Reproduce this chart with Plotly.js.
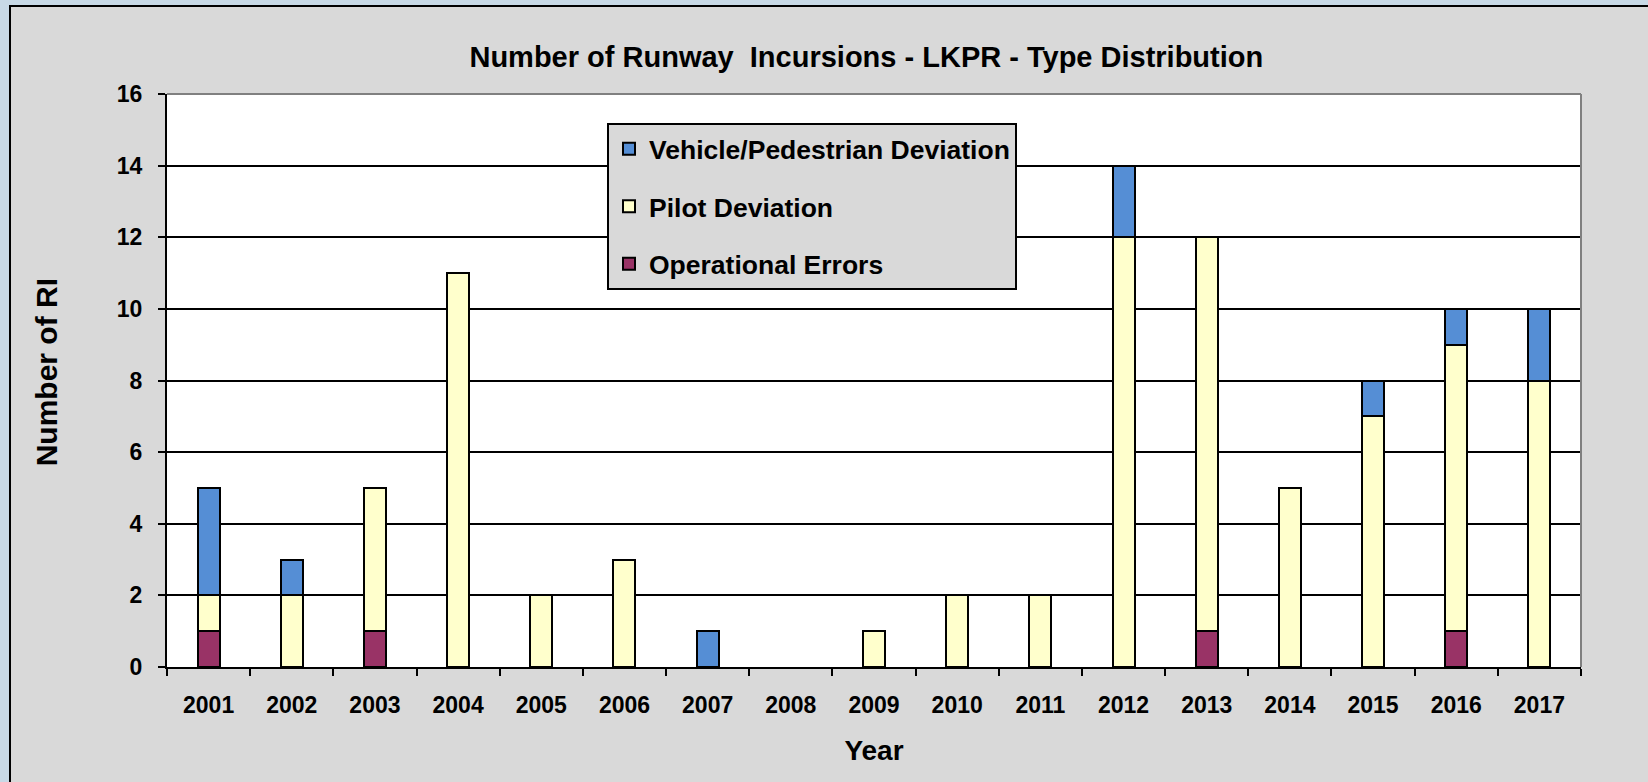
<!DOCTYPE html>
<html>
<head>
<meta charset="utf-8">
<script src="https://cdn.plot.ly/plotly-3.0.1.min.js"></script>
<style>html,body{margin:0;padding:0;background:#d9d9d9;overflow:hidden;}#chart{width:1648px;height:782px;overflow:hidden;}</style>
</head>
<body>
<div id="chart"></div>
<script>
const years = ['2001','2002','2003','2004','2005','2006','2007','2008','2009','2010','2011','2012','2013','2014','2015','2016','2017'];
const operationalErrors = [1,0,1,0,0,0,0,0,0,0,0,0,1,0,0,1,0];
const pilotDeviation    = [1,2,4,11,2,3,0,0,1,2,2,12,11,5,7,8,8];
const vehiclePedestrian = [3,1,0,0,0,0,1,0,0,0,0,2,0,0,1,1,2];
const yTicks = [0,2,4,6,8,10,12,14,16];

const FONT = 'Liberation Sans, Arial, sans-serif';
const L = 167, R = 1581, T = 94, B = 667, W = 1648, H = 782;
const pw = R - L, ph = B - T;
const px = v => (v - L) / pw;
const py = v => (B - v) / ph;

function barTrace(name, vals, color, rank) {
  return {
    type: 'bar', name: name, x: years,
    y: vals.map(v => (v === 0 ? null : v)),
    legendgroup: name, legendrank: rank,
    marker: {color: color, line: {color: '#000', width: 2}},
    hoverinfo: 'x+y+name'
  };
}

const data = [
  barTrace('Operational Errors', operationalErrors, '#993366', 3),
  barTrace('Pilot Deviation', pilotDeviation, '#ffffcc', 2),
  barTrace('Vehicle/Pedestrian Deviation', vehiclePedestrian, '#558ed5', 1)
];

const layout = {
  width: W, height: H,
  margin: {l: L, r: W - R, t: T, b: H - B, pad: 0},
  paper_bgcolor: '#d9d9d9',
  plot_bgcolor: '#ffffff',
  barmode: 'stack',
  bargap: 0.736,
  font: {family: FONT, color: '#000'},
  title: {
    text: '<b>Number of Runway  Incursions - LKPR - Type Distribution</b>',
    font: {family: FONT, size: 29, color: '#000'},
    xref: 'container', x: 0.5257, xanchor: 'center',
    yref: 'container', y: 1 - 57 / H, yanchor: 'middle'
  },
  xaxis: {
    type: 'category',
    tickson: 'boundaries',
    ticks: 'outside', ticklen: 7, tickwidth: 2, tickcolor: '#000',
    showline: true, linecolor: '#000', linewidth: 2,
    showgrid: false, zeroline: false,
    tickfont: {family: FONT, size: 23, color: '#000', weight: 'bold'},
    ticklabelstandoff: 16,
    title: {text: '<b>Year</b>', font: {family: FONT, size: 28, color: '#000'}, standoff: 24},
    automargin: false
  },
  yaxis: {
    range: [0, 16],
    tickvals: yTicks,
    ticktext: yTicks.map(String),
    ticks: 'outside', ticklen: 7, tickwidth: 2, tickcolor: '#000',
    showline: true, linecolor: '#000', linewidth: 2,
    showgrid: true, gridcolor: '#000', gridwidth: 1.6,
    zeroline: false,
    tickfont: {family: FONT, size: 23, color: '#000', weight: 'bold'},
    ticklabelstandoff: 11,
    title: {text: '<b>&nbsp;&nbsp;Number of RI</b>', font: {family: FONT, size: 30, color: '#000'}, standoff: 50},
    automargin: false
  },
  legend: {
    x: px(607), xanchor: 'left',
    y: py(123), yanchor: 'top',
    bgcolor: '#d9d9d9', bordercolor: '#000', borderwidth: 2,
    font: {family: FONT, size: 26.5, color: '#000', weight: 'bold'},
    traceorder: 'grouped',
    tracegroupgap: 20,
    itemclick: false
  },
  showlegend: true,
  shapes: [
    {type: 'rect', xref: 'paper', yref: 'paper', x0: px(0), x1: px(9), y0: py(H), y1: py(0),
     fillcolor: '#c8d9e6', line: {width: 0}, layer: 'above'},
    {type: 'rect', xref: 'paper', yref: 'paper', x0: px(0), x1: px(W), y0: py(5), y1: py(0),
     fillcolor: '#c8d9e6', line: {width: 0}, layer: 'above'},
    {type: 'line', xref: 'paper', yref: 'paper', x0: px(10), x1: px(10), y0: py(5), y1: py(H),
     line: {color: '#000', width: 2}, layer: 'above'},
    {type: 'line', xref: 'paper', yref: 'paper', x0: px(9), x1: px(W), y0: py(6), y1: py(6),
     line: {color: '#000', width: 2}, layer: 'above'},
    {type: 'line', xref: 'paper', yref: 'paper', x0: 0, x1: 1, y0: 1, y1: 1,
     line: {color: '#808080', width: 2}, layer: 'above'},
    {type: 'line', xref: 'paper', yref: 'paper', x0: 1, x1: 1, y0: 0, y1: 1,
     line: {color: '#808080', width: 2}, layer: 'above'}
  ]
};

Plotly.newPlot('chart', data, layout, {displayModeBar: false});
</script>
</body>
</html>
